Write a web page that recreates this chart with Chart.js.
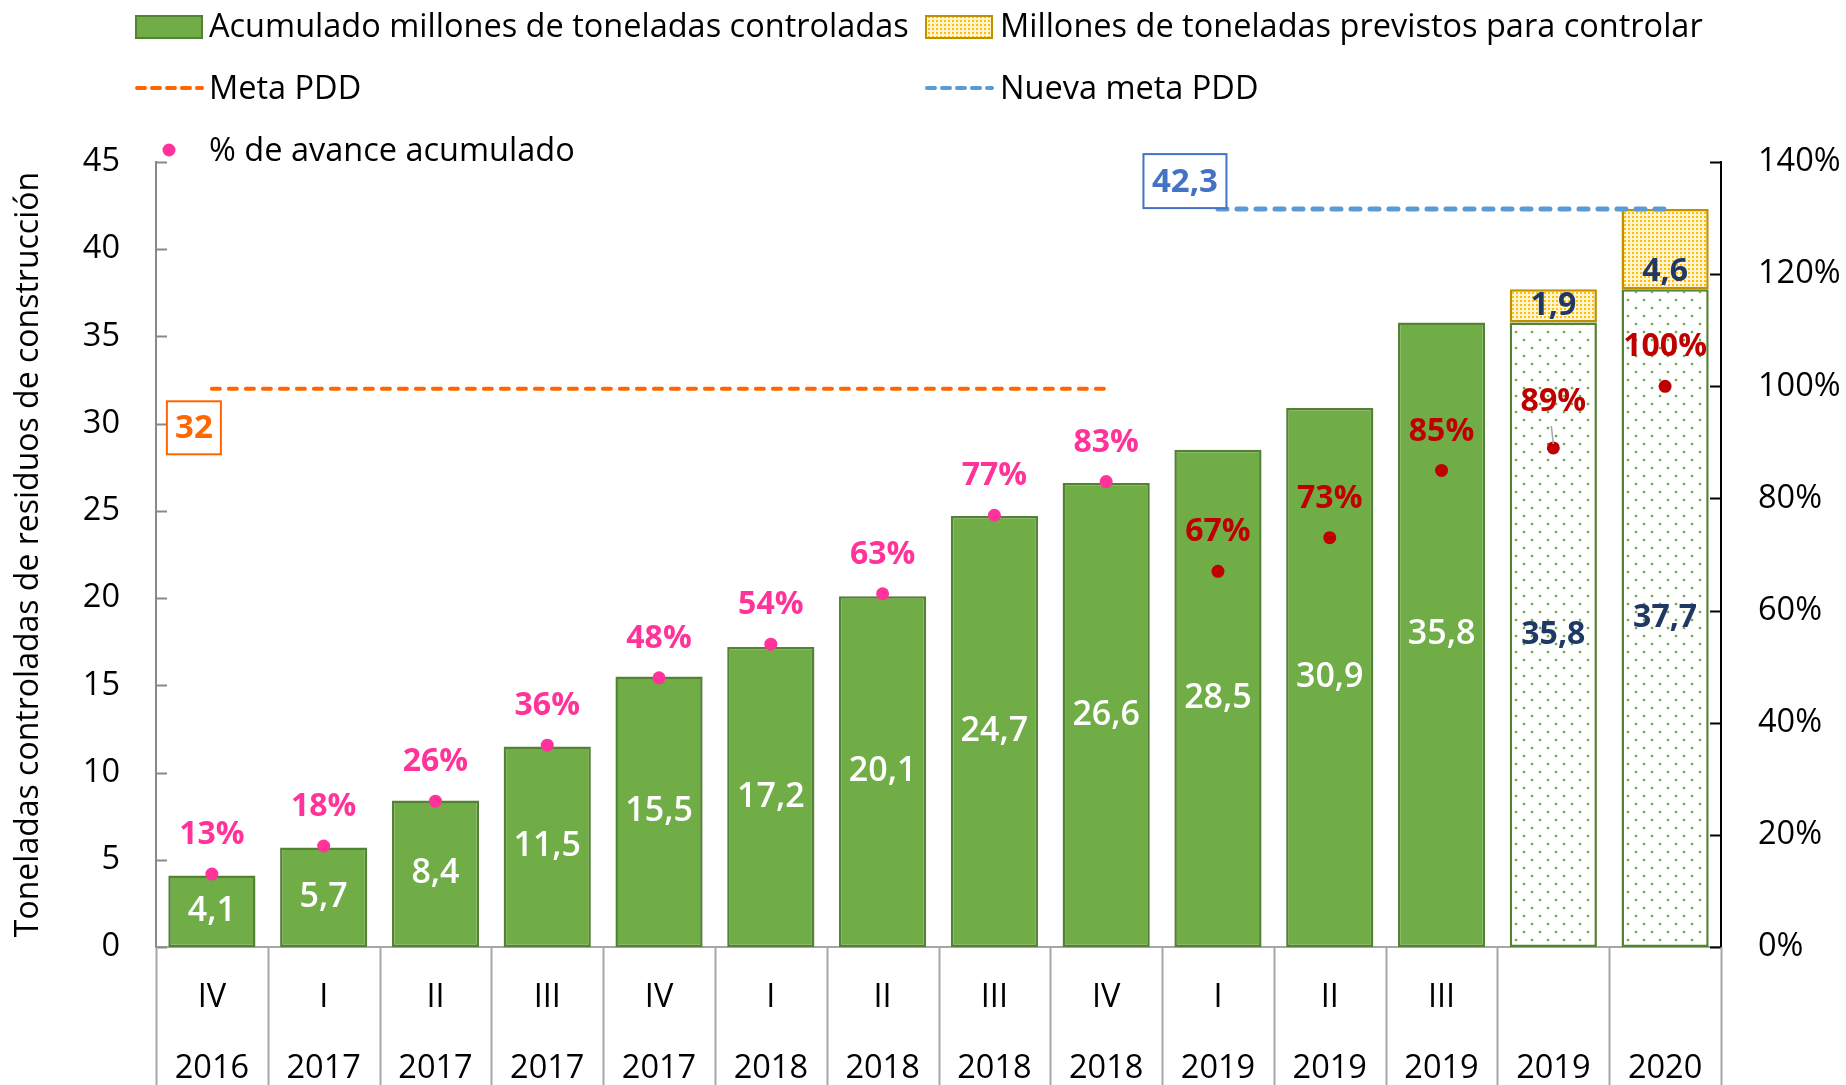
<!DOCTYPE html>
<html>
<head>
<meta charset="utf-8">
<script src="https://cdn.jsdelivr.net/npm/chart.js@4/dist/chart.umd.min.js"></script>
<style>
body { margin: 0; background: #fff; }
#chart { display: block; }
</style>
</head>
<body>
<canvas id="chart" width="1846" height="1085"></canvas>
<script>
// data
const quarters   = ['IV', 'I', 'II', 'III', 'IV', 'I', 'II', 'III', 'IV', 'I', 'II', 'III', '', ''];
const years      = ['2016', '2017', '2017', '2017', '2017', '2018', '2018', '2018', '2018', '2019', '2019', '2019', '2019', '2020'];
const controlled = [4.1, 5.7, 8.4, 11.5, 15.5, 17.2, 20.1, 24.7, 26.6, 28.5, 30.9, 35.8, 35.8, 37.7];
const planned    = [null, null, null, null, null, null, null, null, null, null, null, null, 1.9, 4.6];
const goal       = [32, 32, 32, 32, 32, 32, 32, 32, 32, null, null, null, null, null];
const newGoal    = [null, null, null, null, null, null, null, null, null, 42.3, 42.3, 42.3, 42.3, 42.3];
const progress   = [13, 18, 26, 36, 48, 54, 63, 77, 83, 67, 73, 85, 89, 100];
const yTicks     = [0, 5, 10, 15, 20, 25, 30, 35, 40, 45];
const pctTicks   = [0, 20, 40, 60, 80, 100, 120, 140];

const FONT = "'Open Sans', 'DejaVu Sans', sans-serif";
const GREEN = '#70AD47';
const GREEN_DARK = '#548235';
const PINK = '#FF3399';
const RED = '#C00000';
const NAVY = '#203864';
const ORANGE = '#FF6600';
const BLUE = '#5B9BD5';
const GOLD = '#BF9000';

var makePattern = function(size, bg, dot, pts, r) {
    var c = document.createElement('canvas');
    c.width = size; c.height = size;
    var g = c.getContext('2d');
    g.fillStyle = bg;
    g.fillRect(0, 0, size, size);
    g.fillStyle = dot;
    pts.forEach(function(p) {
        g.fillRect(p[0] - r, p[1] - r, r * 2, r * 2);
    });
    return g.createPattern(c, 'repeat');
};

var ctx = document.getElementById('chart').getContext('2d');
var greenDots  = makePattern(16, '#FFFFFF', GREEN, [[4, 4], [12, 12]], 1.2);
var yellowDots = makePattern(4, '#FFF3D0', '#FFC000', [[1, 1]], 1);

var isForecast = function(i) { return planned[i] !== null; };

var fmt = function(v) { return String(v).replace('.', ','); };

var labelsPlugin = {
    id: 'labels',
    afterDatasetsDraw: function(chart) {
        var c = chart.ctx;
        var area = chart.chartArea;
        var ys = chart.scales.y, yr = chart.scales.y1;

        // inside tick marks
        c.save();
        c.lineWidth = 2;
        c.strokeStyle = '#898989';
        yTicks.forEach(function(t) {
            var py = Math.round(ys.getPixelForValue(t)) + 0.5;
            c.beginPath(); c.moveTo(area.left, py); c.lineTo(area.left + 11, py); c.stroke();
        });
        c.strokeStyle = '#000';
        pctTicks.forEach(function(t) {
            var py = Math.round(yr.getPixelForValue(t)) + 0.5;
            c.beginPath(); c.moveTo(area.right - 11, py); c.lineTo(area.right, py); c.stroke();
        });

        // category separators below the axis
        var xs = chart.scales.x;
        c.strokeStyle = '#A6A6A6';
        for (var i = 0; i <= quarters.length; i++) {
            var px;
            if (i < quarters.length) px = xs.getPixelForValue(i) - (xs.getPixelForValue(1) - xs.getPixelForValue(0)) / 2;
            else px = area.right;
            px = Math.round(px) + 0.5;
            c.beginPath(); c.moveTo(px, area.bottom); c.lineTo(px, chart.height); c.stroke();
        }
        c.restore();

        // bar value labels
        c.save();
        c.textAlign = 'center';
        c.textBaseline = 'middle';
        chart.getDatasetMeta(0).data.forEach(function(bar, i) {
            var mid = (bar.y + bar.base) / 2;
            if (isForecast(i)) {
                c.fillStyle = NAVY;
                c.font = 'bold 32px ' + FONT;
            } else {
                c.fillStyle = '#FFFFFF';
                c.font = '600 34px ' + FONT;
            }
            c.fillText(fmt(controlled[i]), bar.x, mid);
        });
        chart.getDatasetMeta(1).data.forEach(function(bar, i) {
            if (planned[i] === null) return;
            c.fillStyle = NAVY;
            c.font = 'bold 32px ' + FONT;
            c.fillText(fmt(planned[i]), bar.x, bar.base - 17);
        });

        // percentage labels
        chart.getDatasetMeta(4).data.forEach(function(pt, i) {
            c.fillStyle = goal[i] !== null ? PINK : RED;
            c.font = 'bold 32px ' + FONT;
            var ty = pt.y - 39;
            if (progress[i] === 89) {
                c.strokeStyle = '#A6A6A6';
                c.lineWidth = 1.5;
                c.beginPath(); c.moveTo(pt.x - 2, pt.y - 22); c.lineTo(pt.x, pt.y - 4); c.stroke();
                ty = pt.y - 46;
            }
            c.fillText(progress[i] + '%', pt.x, ty);
        });

        // goal boxes
        var drawBox = function(text, cx, cy, w, h, color) {
            c.fillStyle = '#FFFFFF';
            c.fillRect(cx - w / 2, cy - h / 2, w, h);
            c.strokeStyle = color;
            c.lineWidth = 2;
            c.strokeRect(cx - w / 2, cy - h / 2, w, h);
            c.fillStyle = color;
            c.font = 'bold 33px ' + FONT;
            c.fillText(text, cx, cy + 1);
        };
        var g0 = chart.getDatasetMeta(2).data[0];
        drawBox('32', g0.x - 18, g0.y + 39, 54, 53, ORANGE);
        var n0 = chart.getDatasetMeta(3).data[9];
        drawBox('42,3', n0.x - 33, n0.y - 28, 83, 54, '#4472C4');
        c.restore();
    },
    afterDraw: function(chart) {
        // legend laid out like the original grid
        var c = chart.ctx;
        c.save();
        c.font = '32.5px ' + FONT;
        c.fillStyle = '#000';
        c.textBaseline = 'middle';
        c.textAlign = 'left';

        c.fillStyle = GREEN;
        c.fillRect(136, 16, 66, 22);
        c.strokeStyle = GREEN_DARK; c.lineWidth = 2;
        c.strokeRect(136, 16, 66, 22);
        c.fillStyle = '#000';
        c.fillText('Acumulado millones de toneladas controladas', 209, 28);

        c.fillStyle = yellowDots;
        c.fillRect(926, 16, 66, 22);
        c.strokeStyle = GOLD;
        c.strokeRect(926, 16, 66, 22);
        c.fillStyle = '#000';
        c.fillText('Millones de toneladas previstos para controlar', 1000, 28);

        c.lineCap = 'round';
        c.lineWidth = 4;
        c.setLineDash([8, 7]);
        c.strokeStyle = ORANGE;
        c.beginPath(); c.moveTo(137, 88); c.lineTo(202, 88); c.stroke();
        c.strokeStyle = BLUE;
        c.beginPath(); c.moveTo(927, 88); c.lineTo(992, 88); c.stroke();
        c.setLineDash([]);
        c.fillStyle = '#000';
        c.fillText('Meta PDD', 209, 90);
        c.fillText('Nueva meta PDD', 1000, 90);

        c.fillStyle = PINK;
        c.beginPath(); c.arc(169, 150, 6.5, 0, Math.PI * 2); c.fill();
        c.fillStyle = '#000';
        c.fillText('% de avance acumulado', 209, 152);
        c.restore();
    }
};

new Chart(ctx, {
    type: 'bar',
    data: {
        labels: quarters.map(function(q, i) { return [q, years[i]]; }),
        datasets: [
            {
                label: 'Acumulado millones de toneladas controladas',
                data: controlled,
                stack: 'bars',
                backgroundColor: function(c) { return isForecast(c.dataIndex) ? greenDots : GREEN; },
                borderColor: GREEN_DARK,
                borderWidth: 2.5,
                borderSkipped: false,
                barPercentage: 0.78,
                categoryPercentage: 1,
                order: 3
            },
            {
                label: 'Millones de toneladas previstos para controlar',
                data: planned,
                stack: 'bars',
                backgroundColor: yellowDots,
                borderColor: GOLD,
                borderWidth: 2.5,
                borderSkipped: false,
                barPercentage: 0.78,
                categoryPercentage: 1,
                order: 3
            },
            {
                type: 'line',
                label: 'Meta PDD',
                data: goal,
                stack: 'goal',
                borderColor: ORANGE,
                borderWidth: 4,
                borderDash: [8, 9],
                borderCapStyle: 'round',
                pointRadius: 0,
                fill: false,
                order: 2
            },
            {
                type: 'line',
                label: 'Nueva meta PDD',
                data: newGoal,
                stack: 'newGoal',
                borderColor: BLUE,
                borderWidth: 5,
                borderDash: [9, 10],
                borderCapStyle: 'round',
                pointRadius: 0,
                fill: false,
                order: 1
            },
            {
                type: 'line',
                label: '% de avance acumulado',
                data: progress,
                yAxisID: 'y1',
                showLine: false,
                pointRadius: 6.5,
                pointBorderWidth: 0,
                pointBackgroundColor: function(c) { return goal[c.dataIndex] !== null ? PINK : RED; },
                order: 0
            }
        ]
    },
    options: {
        responsive: false,
        animation: false,
        maintainAspectRatio: false,
        layout: { padding: { top: 162, left: 0, right: 0, bottom: 0 } },
        plugins: {
            legend: { display: false },
            tooltip: { enabled: false }
        },
        scales: {
            x: {
                stacked: true,
                offset: true,
                grid: { display: false },
                border: { color: '#A6A6A6', width: 2 },
                ticks: {
                    color: '#000',
                    font: { family: FONT, size: 32.5, lineHeight: 2.18 },
                    padding: 7,
                    maxRotation: 0,
                    autoSkip: false
                },
                afterFit: function(s) { s.height = 138; }
            },
            y: {
                stacked: true,
                position: 'left',
                min: 0,
                max: 45,
                grid: { display: false },
                border: { color: '#898989', width: 2 },
                ticks: {
                    stepSize: 5,
                    color: '#000',
                    font: { family: FONT, size: 32.5 },
                    padding: 28
                },
                title: {
                    display: true,
                    text: 'Toneladas controladas de residuos de construcción',
                    color: '#000',
                    font: { family: FONT, size: 32 },
                    padding: { top: 10, bottom: 0 }
                },
                afterFit: function(s) { s.width = 156; }
            },
            y1: {
                position: 'right',
                min: 0,
                max: 140,
                grid: { display: false },
                border: { color: '#000', width: 2 },
                ticks: {
                    stepSize: 20,
                    color: '#000',
                    font: { family: FONT, size: 32.5 },
                    padding: 29,
                    callback: function(v) { return v + '%'; }
                },
                afterFit: function(s) { s.width = 125; }
            }
        }
    },
    plugins: [labelsPlugin]
});
</script>
</body>
</html>
